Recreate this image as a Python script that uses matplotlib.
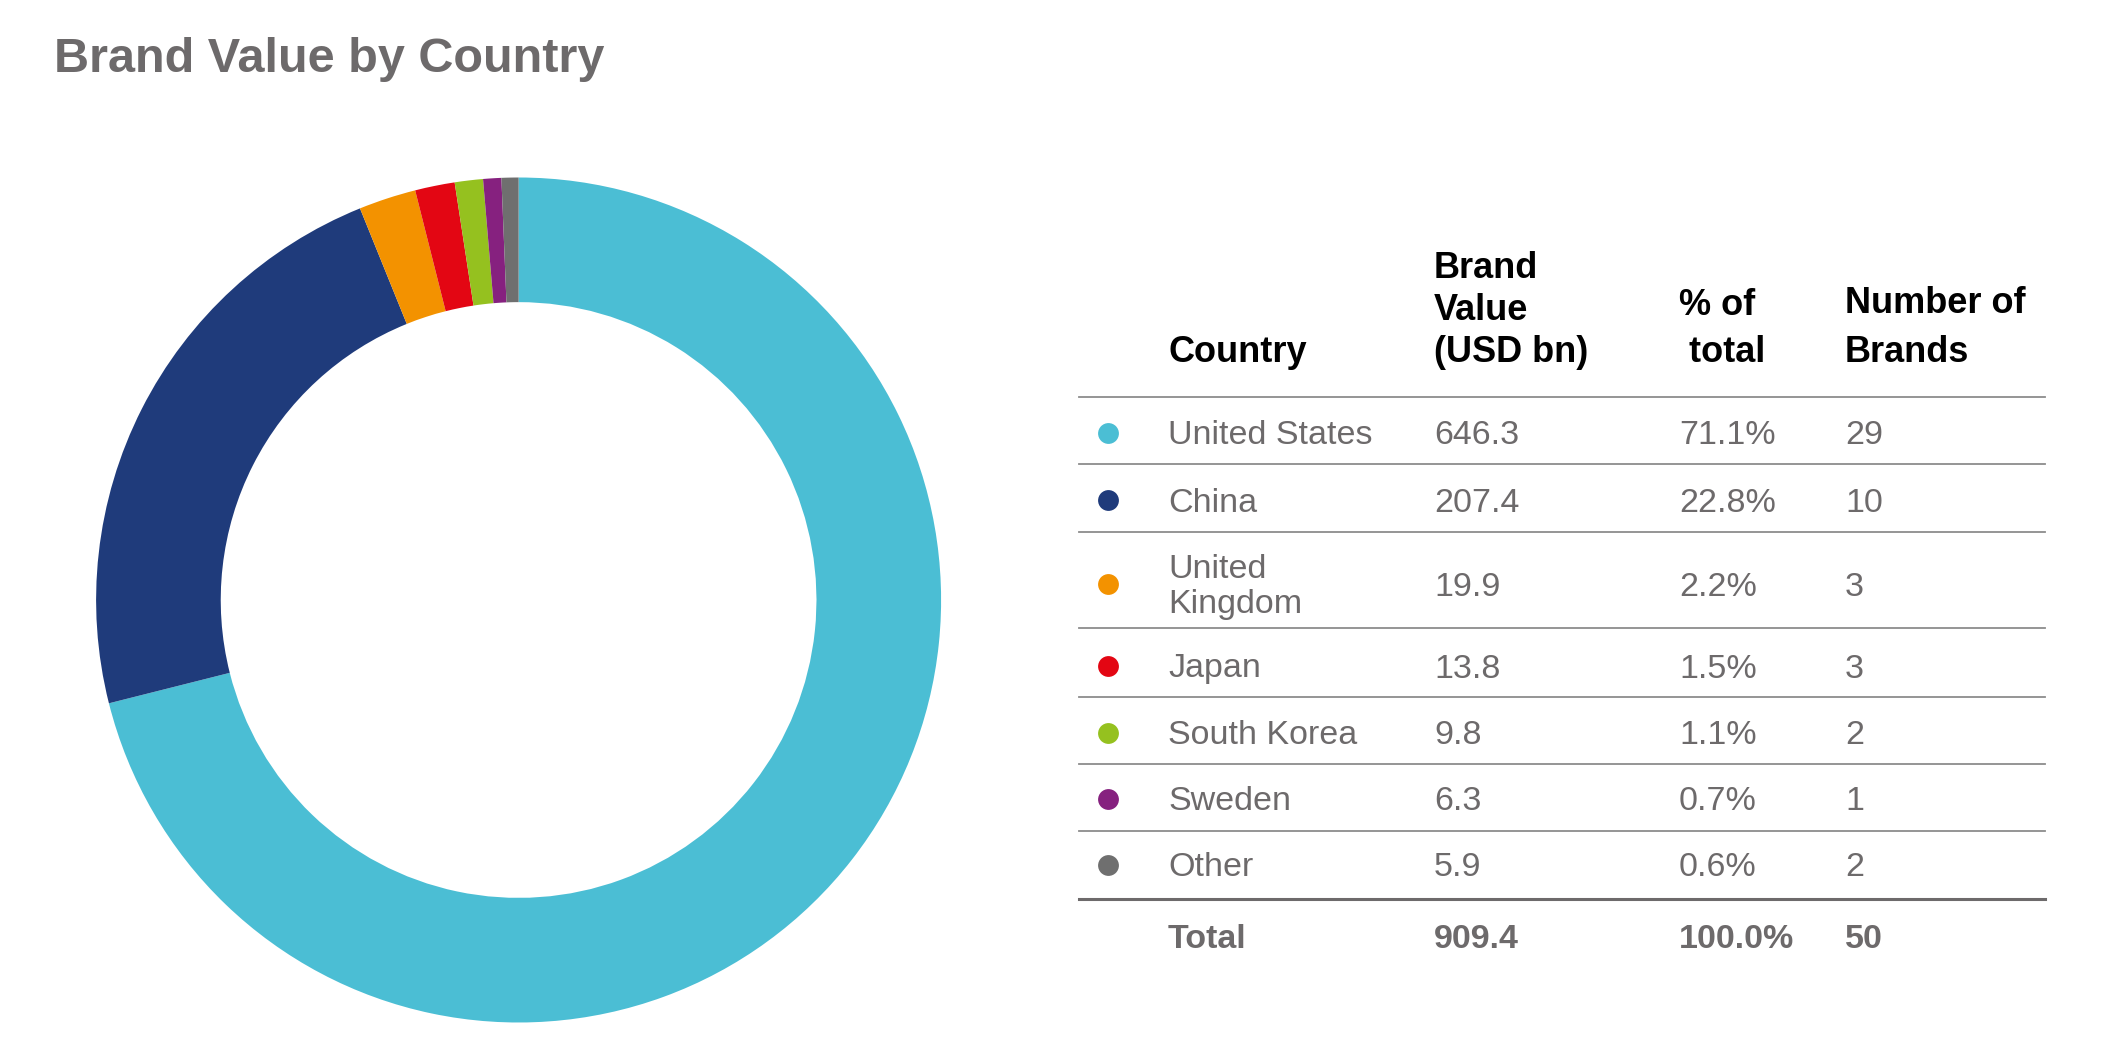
import matplotlib.pyplot as plt
import matplotlib as mpl

plt.rcParams['font.family'] = ['Liberation Sans', 'DejaVu Sans']

# data
countries = ['United States', 'China', 'United\nKingdom', 'Japan', 'South Korea', 'Sweden', 'Other']
brand_value = [646.3, 207.4, 19.9, 13.8, 9.8, 6.3, 5.9]
pct_total = ['71.1%', '22.8%', '2.2%', '1.5%', '1.1%', '0.7%', '0.6%']
n_brands = [29, 10, 3, 3, 2, 1, 2]
total_row = ['Total', '909.4', '100.0%', '50']
colors = ['#4bbed4', '#1f3b7b', '#f39200', '#e30613', '#95c11f', '#86217f', '#6f6f6f']

grey = '#6d6a6b'

W, H = 2123, 1060
fig = plt.figure(figsize=(W / 100, H / 100), dpi=100)

# donut
cx, cy, r = 518.6, 600, 422.5
ax = fig.add_axes([(cx - r) / W, (H - cy - r) / H, 2 * r / W, 2 * r / H])
ax.pie(brand_value, colors=colors, startangle=90, counterclock=False,
       radius=1, wedgeprops=dict(width=0.295, linewidth=0))
ax.set_xlim(-1, 1)
ax.set_ylim(-1, 1)
ax.set_aspect('equal')
ax.axis('off')

# overlay in pixel coords for title + table
tax = fig.add_axes([0, 0, 1, 1], zorder=5)
tax.set_xlim(0, W)
tax.set_ylim(H, 0)
tax.axis('off')
tax.patch.set_alpha(0)

tax.text(54, 59, 'Brand Value by Country', fontsize=35, fontweight='bold',
         color=grey, va='center', ha='left')

# table layout
x_dot, x_c, x_v, x_p, x_n = 1108, 1168, 1434, 1679, 1845
x0, x1 = 1079, 2045
hdr = 26
body = 24.5

# header, one line at a time (baselines)
header = [(x_c, 362, 'Country'),
          (x_v, 278, 'Brand'), (x_v, 320, 'Value'), (x_v, 362, '(USD bn)'),
          (x_p, 315, '% of'), (x_p, 362, ' total'),
          (x_n, 313, 'Number of'), (x_n, 362, 'Brands')]
for x, y, s in header:
    tax.text(x, y, s, fontsize=hdr, fontweight='bold', color='black', va='baseline')

row_y = [436, 503, 587, 669, 736, 802, 868]
line_y = [397, 464, 532, 628, 697, 764, 831]
for y in line_y:
    tax.plot([x0, x1], [y, y], color='#8c8c8c', lw=1.3)
tax.plot([x0, x1], [899, 899], color='#6d6a6b', lw=2.2)

for i in range(len(countries)):
    y = row_y[i]
    tax.plot(x_dot, y - 3, 'o', color=colors[i], markersize=15, markeredgewidth=0)
    tax.text(x_c, y, countries[i], fontsize=body, color=grey, va='center', linespacing=1.2)
    tax.text(x_v, y, '%.1f' % brand_value[i], fontsize=body, color=grey, va='center')
    tax.text(x_p, y, pct_total[i], fontsize=body, color=grey, va='center')
    tax.text(x_n, y, str(n_brands[i]), fontsize=body, color=grey, va='center')

for x, s in zip([x_c, x_v, x_p, x_n], total_row):
    tax.text(x, 939, s, fontsize=body, fontweight='bold', color=grey, va='center')

fig.savefig('out.png', dpi=100, facecolor='white')
